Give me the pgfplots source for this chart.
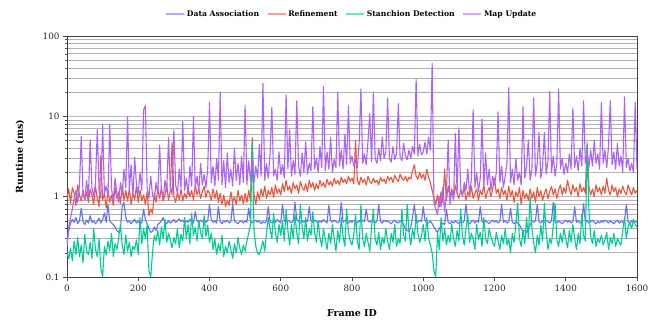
\documentclass[border=0pt]{standalone}
\usepackage{fontspec}
\setmainfont{DejaVu Serif}
\usepackage{pgfplots}
\usepackage{pgfplotstable}
\pgfplotsset{compat=1.18}
\definecolor{cDA}{HTML}{636EFA}
\definecolor{cRE}{HTML}{EF553B}
\definecolor{cSD}{HTML}{00CC96}
\definecolor{cMU}{HTML}{AB63FA}

\pgfplotstableread{
f da re sd mu
0   0.26 0.95 0.20 0.24
5   0.38 1.25 0.17 0.42
10  0.47 0.82 0.23 0.55
15  0.52 1.30 0.16 0.70
20  0.48 1.10 0.28 0.95
25  0.55 0.78 0.19 1.20
30  0.46 1.40 0.31 0.85
35  0.50 1.05 0.18 1.40
40  0.72 0.88 0.25 5.6
45  0.49 1.20 0.15 1.10
50  0.45 0.92 0.34 0.90
55  0.51 1.15 0.21 1.60
60  0.47 0.85 0.19 0.95
65  0.58 1.25 0.27 5.1
70  0.48 1.05 0.17 1.30
75  0.50 0.80 0.40 1.00
80  0.46 1.35 0.22 1.50
85  0.49 0.95 0.18 6.8
90  0.54 0.75 0.30 1.20
95  0.47 3.30 0.13 0.95
100 0.52 0.90 0.10 7.9
105 0.63 1.10 0.24 1.10
110 0.48 0.72 0.19 1.35
115 0.80 1.20 0.28 1.00
120 0.50 0.85 0.21 7.9
125 0.47 1.05 0.35 1.25
130 0.45 0.78 0.18 0.90
135 0.42 1.30 0.26 1.70
140 0.38 0.95 0.22 1.10
145 0.36 1.15 0.30 0.85
150 0.40 0.82 0.45 1.50
155 0.75 1.40 0.25 1.05
160 0.85 0.90 0.19 2.20
165 0.55 1.20 0.33 1.30
170 0.48 0.88 0.21 9.9
175 0.50 1.25 0.27 1.20
180 0.46 0.80 0.18 2.50
185 0.49 1.10 0.24 1.00
190 0.52 0.92 0.22 3.1
195 0.47 1.35 0.29 1.40
200 0.50 0.85 0.19 1.10
205 0.45 1.20 0.55 2.00
210 0.48 0.90 0.26 1.20
215 0.70 1.05 0.40 12.0
220 0.52 0.80 0.30 13.6
225 0.46 1.15 0.45 1.30
230 0.40 0.58 0.12 0.95
235 0.36 0.70 0.10 1.80
240 0.37 0.62 0.20 1.05
245 0.42 1.10 0.33 0.90
250 0.38 0.85 0.28 1.50
255 0.45 1.25 0.38 1.10
260 0.47 0.95 0.25 4.4
265 0.50 1.30 0.42 1.20
270 0.55 0.88 0.30 0.95
275 0.48 1.05 0.52 1.60
280 0.46 1.40 0.27 1.15
285 0.50 0.90 0.35 5.4
290 0.47 1.20 0.29 1.30
295 0.49 4.70 0.23 1.05
300 0.52 1.00 0.31 6.8
305 0.48 0.85 0.26 1.40
310 0.50 1.15 0.40 1.10
315 0.53 0.92 0.23 2.20
320 0.49 1.25 0.34 1.30
325 0.51 0.88 0.28 8.6
330 0.47 1.10 0.55 1.20
335 0.50 0.95 0.30 1.70
340 0.48 1.30 0.45 1.05
345 0.52 1.00 0.26 2.40
350 0.49 1.20 0.62 1.35
355 0.47 0.90 0.33 9.9
360 0.65 1.40 0.41 1.25
365 0.50 1.05 0.28 1.80
370 0.48 1.25 0.50 1.15
375 0.51 0.95 0.36 2.60
380 0.49 1.15 0.30 1.40
385 0.52 1.35 0.58 1.90
390 0.48 0.98 0.32 1.30
395 0.50 1.20 0.44 2.20
400 0.80 1.10 0.27 15.0
405 0.52 0.90 0.35 1.50
410 0.48 1.25 0.22 2.40
415 0.50 0.95 0.30 1.35
420 0.47 1.20 0.19 3.00
425 0.75 0.85 0.26 1.60
430 0.49 1.10 0.21 20.0
435 0.46 0.80 0.33 1.40
440 0.50 1.05 0.18 2.80
445 0.48 0.75 0.24 1.30
450 0.51 0.90 0.20 3.50
455 0.47 0.78 0.28 1.50
460 0.49 1.15 0.22 2.20
465 0.82 0.85 0.17 1.35
470 0.50 1.00 0.26 4.00
475 0.48 0.80 0.20 1.60
480 0.46 1.20 0.31 2.60
485 0.49 0.88 0.23 1.40
490 0.50 1.05 0.19 3.20
495 0.47 0.82 0.25 1.50
500 0.50 1.10 0.21 13.6
505 0.48 0.85 0.28 1.40
510 0.72 1.20 0.35 2.80
515 0.50 0.90 0.45 1.60
520 0.47 5.40 4.70 3.00
525 0.49 1.05 0.38 1.50
530 0.51 0.80 0.24 2.40
535 0.48 1.15 0.20 1.70
540 0.50 0.92 0.19 4.50
545 0.46 1.25 0.23 1.80
550 0.49 1.00 0.28 26.0
555 0.47 1.35 0.21 1.60
560 0.50 0.95 0.35 2.60
565 0.75 1.20 0.55 1.70
570 0.49 1.05 0.40 3.40
575 0.47 1.30 0.30 13.0
580 0.50 0.98 0.62 1.80
585 0.48 1.40 0.36 2.20
590 0.52 1.10 0.27 1.60
595 0.49 1.25 0.45 3.60
600 0.47 1.05 0.33 1.90
605 0.80 1.45 0.50 2.50
610 0.50 1.15 0.28 1.70
615 0.48 1.60 0.70 18.6
620 0.51 1.20 0.38 2.20
625 0.49 1.35 0.25 6.8
630 0.47 1.10 0.45 1.80
635 0.50 1.50 0.30 2.80
640 0.85 1.25 0.60 1.90
645 0.52 1.40 0.35 15.6
650 0.49 1.10 0.26 2.40
655 0.47 1.55 0.80 1.80
660 0.50 1.30 0.42 3.50
665 0.48 1.20 0.30 2.00
670 0.51 1.45 0.55 4.80
675 0.49 1.15 0.28 1.90
680 0.75 1.60 0.40 2.60
685 0.50 1.30 0.33 2.10
690 0.48 1.50 0.65 13.2
695 0.51 1.20 0.36 2.20
700 0.49 1.45 0.27 3.00
705 0.47 1.25 0.50 2.00
710 0.50 1.60 0.31 4.20
715 0.48 1.35 0.24 2.30
720 0.52 1.50 0.40 23.5
725 0.49 1.30 0.29 2.10
730 0.47 1.65 0.22 3.60
735 0.78 1.40 0.35 2.20
740 0.50 1.55 0.26 5.50
745 0.48 1.35 0.45 2.00
750 0.51 1.70 0.30 2.90
755 0.49 1.45 0.21 2.30
760 0.47 1.60 0.38 20.0
765 0.50 1.40 0.27 2.40
770 0.85 1.75 0.55 3.80
775 0.48 1.50 0.32 2.20
780 0.51 1.65 0.24 6.00
785 0.49 1.45 0.70 2.50
790 0.47 1.80 0.36 13.6
795 0.50 1.55 0.28 2.60
800 0.48 1.70 0.25 3.20
805 0.51 1.45 0.33 2.40
810 0.49 5.00 0.60 2.80
815 0.47 1.60 0.28 2.30
820 0.50 1.40 0.22 4.50
825 0.48 1.75 0.80 22.0
830 0.51 1.50 0.30 2.60
835 0.49 1.65 0.24 3.40
840 0.70 1.40 0.35 2.50
845 0.50 1.80 0.27 5.00
850 0.48 1.55 0.21 10.8
855 0.51 1.45 0.42 2.70
860 0.49 1.70 0.70 20.0
865 0.47 1.50 0.30 3.00
870 0.50 1.60 0.25 2.60
875 0.80 1.40 0.36 4.00
880 0.49 1.75 0.22 2.80
885 0.47 1.55 0.31 5.50
890 0.51 1.65 0.26 3.00
895 0.49 1.45 0.40 3.60
900 0.50 1.80 0.28 17.0
905 0.48 1.60 0.22 3.00
910 0.46 1.75 0.35 2.70
915 0.49 1.50 0.27 4.20
920 0.51 1.85 0.45 2.90
925 0.48 1.65 0.24 3.40
930 0.47 1.55 0.30 14.4
935 0.50 1.90 0.26 3.10
940 0.49 1.70 0.70 2.80
945 0.45 1.60 0.33 4.60
950 0.40 1.80 0.28 3.20
955 0.38 1.55 0.80 2.90
960 0.37 1.75 0.36 3.80
965 0.42 1.65 0.25 3.00
970 0.55 2.10 0.40 4.20
975 0.80 2.50 0.30 3.40
980 0.50 1.80 0.60 28.7
985 0.48 1.65 0.35 3.20
990 0.51 2.00 0.27 4.50
995 0.49 1.70 0.32 3.30
1000 0.75 1.90 0.45 3.60
1005 0.50 1.60 0.28 4.80
1010 0.48 2.20 0.55 3.40
1015 0.47 1.75 0.30 5.50
1020 0.50 1.50 0.25 3.80
1025 0.46 1.20 0.20 46.0
1030 0.42 0.95 0.12 0.85
1035 0.38 0.80 0.10 0.70
1040 0.36 1.05 0.35 0.60
1045 0.40 0.75 0.22 1.00
1050 0.44 1.15 0.55 0.75
1055 0.47 0.85 0.28 1.30
1060 0.45 2.20 0.40 0.65
1065 0.70 0.90 0.25 1.10
1070 0.48 1.35 0.33 5.10
1075 0.46 1.00 0.27 0.80
1080 0.49 1.25 0.45 1.20
1085 0.47 0.95 0.30 0.90
1090 0.50 1.40 0.24 6.10
1095 0.48 1.10 0.38 1.10
1100 0.46 0.95 0.28 7.20
1105 0.49 1.20 0.70 1.30
1110 0.47 1.05 0.33 1.00
1115 0.50 1.30 0.25 1.50
1120 0.80 0.90 0.40 1.20
1125 0.48 1.15 0.60 2.20
1130 0.46 1.00 0.27 1.10
1135 0.49 1.35 0.35 1.60
1140 0.51 0.95 0.30 12.1
1145 0.47 1.10 0.22 1.30
1150 0.50 1.25 0.45 2.00
1155 0.48 0.90 0.29 1.15
1160 0.75 1.20 0.36 1.70
1165 0.49 1.05 0.24 9.30
1170 0.47 1.40 0.55 1.30
1175 0.50 0.95 0.30 3.50
1180 0.48 1.15 0.26 1.40
1185 0.46 1.30 0.40 2.20
1190 0.49 1.00 0.32 1.20
1195 0.51 1.25 0.27 1.80
1200 0.48 1.70 0.24 1.40
1205 0.50 1.10 0.36 2.00
1210 0.47 1.25 0.28 11.4
1215 0.49 0.95 0.22 1.50
1220 0.80 1.30 0.33 2.40
1225 0.48 1.05 0.26 1.30
1230 0.50 1.20 0.40 1.80
1235 0.47 0.90 0.25 2.60
1240 0.49 1.35 0.30 22.7
1245 0.72 1.00 0.20 1.50
1250 0.48 1.20 0.35 2.20
1255 0.46 0.85 0.27 1.40
1260 0.49 1.15 0.45 3.00
1265 0.47 1.00 0.83 1.60
1270 0.45 1.30 0.30 2.00
1275 0.40 0.80 0.24 1.40
1280 0.37 1.20 0.38 13.2
1285 0.38 0.95 0.26 1.70
1290 0.36 1.10 0.55 2.40
1295 0.40 0.90 0.30 5.10
1300 0.45 1.25 1.00 1.60
1305 0.49 0.95 0.40 2.20
1310 0.48 1.15 0.27 17.0
1315 0.50 0.85 0.20 1.80
1320 0.80 1.30 0.33 2.60
1325 0.49 1.00 0.25 6.30
1330 0.47 1.20 0.44 1.70
1335 0.50 0.90 0.28 2.40
1340 0.48 1.10 0.83 6.30
1345 0.51 1.25 0.36 1.90
1350 0.49 0.95 0.22 2.80
1355 0.47 1.15 0.30 20.3
1360 0.50 1.35 0.26 2.00
1365 0.85 1.05 0.45 3.20
1370 0.49 1.25 0.83 1.80
1375 0.47 0.95 0.29 2.60
1380 0.50 1.20 0.24 22.0
1385 0.48 1.40 0.35 2.20
1390 0.46 1.05 0.27 3.00
1395 0.49 1.30 0.40 1.90
1400 0.51 1.10 0.30 2.60
1405 0.48 1.60 0.23 2.00
1410 0.50 1.25 0.38 3.40
1415 0.47 1.05 0.27 2.20
1420 0.49 1.40 0.45 12.7
1425 0.75 1.15 0.30 2.30
1430 0.48 1.30 0.22 3.20
1435 0.50 1.00 0.35 2.10
1440 0.47 1.45 0.26 4.00
1445 0.49 1.15 0.60 2.40
1450 0.82 1.30 0.33 15.6
1455 0.48 1.10 0.28 2.60
1460 0.50 4.70 4.40 3.60
1465 0.47 1.35 0.70 2.30
1470 0.49 1.05 0.32 3.80
1475 0.51 1.25 0.26 2.40
1480 0.48 1.00 0.38 5.00
1485 0.46 1.40 0.24 2.60
1490 0.49 1.15 0.30 3.40
1495 0.47 1.30 0.27 2.20
1500 0.50 1.05 0.33 15.0
1505 0.48 1.35 0.25 2.60
1510 0.51 1.10 0.29 3.80
1515 0.49 1.70 0.36 2.30
1520 0.47 1.20 0.22 4.20
1525 0.50 1.05 0.31 15.6
1530 0.48 1.40 0.26 2.50
1535 0.46 1.15 0.35 3.60
1540 0.49 1.30 0.24 2.20
1545 0.51 1.00 0.30 4.60
1550 0.47 1.25 0.27 2.40
1555 0.49 1.10 0.25 3.20
1560 0.48 1.35 0.38 2.00
1565 0.50 1.15 0.55 17.5
1570 0.80 1.05 0.30 2.30
1575 0.49 1.40 0.42 3.00
1580 0.47 1.20 0.48 2.10
1585 0.50 1.05 0.40 2.60
1590 0.48 1.30 0.52 2.00
1595 0.49 1.10 0.45 15.0
1600 0.48 1.20 0.42 2.20
}\datatable

\begin{document}
\begin{tikzpicture}
\begin{axis}[
  name=ax,
  scale only axis,
  width=570bp, height=241bp,
  xmin=0, xmax=1600,
  ymode=log, ymin=0.1, ymax=100,
  xtick={0,200,...,1600},
  ytick={0.1,1,10,100},
  yticklabels={0.1,1,10,100},
  /pgf/number format/assume math mode=true,
  /pgf/number format/set thousands separator={},
  tick label style={font=\fontsize{8.8}{10}\selectfont, text=black!85},
  tick align=outside,
  major tick length=4bp,
  minor tick length=2bp,
  xtick pos=bottom,
  ytick pos=left,
  axis line style={black!75, line width=0.8bp},
  grid=both,
  xmajorgrids=false, xminorgrids=false,
  major grid style={gray!55, line width=0.8bp},
  minor grid style={gray!60, line width=0.8bp},
  tick style={black!70, line width=0.6bp},
  xlabel={\textbf{Frame ID}},
  ylabel={\textbf{Runtime (ms)}},
  label style={font=\fontsize{9.5}{11}\selectfont},
  xlabel style={at={(axis description cs:0.5,-0.149)}, anchor=center},
  ylabel style={at={(axis description cs:-0.0825,0.5)}, anchor=center},
  legend columns=4,
  legend style={at={(0.5,1.091)}, anchor=center, draw=none, fill=none,
    font=\fontsize{7.7}{9}\selectfont\bfseries,
    /tikz/every even column/.append style={column sep=6bp}},
  legend image code/.code={\draw[#1, opacity=0.55, line width=1.2bp] (0bp,0bp) -- (18bp,0bp);},
  line join=round,
]
\addplot[cDA, line width=1.1bp] table[x=f, y=da] {\datatable};
\addlegendentry{Data Association}
\addplot[cRE, line width=1.1bp] table[x=f, y=re] {\datatable};
\addlegendentry{Refinement}
\addplot[cSD, line width=1.1bp] table[x=f, y=sd] {\datatable};
\addlegendentry{Stanchion Detection}
\addplot[cMU, line width=1.1bp] table[x=f, y=mu] {\datatable};
\addlegendentry{Map Update}
\end{axis}
\pgfresetboundingbox
\path[use as bounding box] ([xshift=-67bp,yshift=-45bp]ax.south west) rectangle ([xshift=27bp,yshift=36bp]ax.north east);
\end{tikzpicture}
\end{document}
